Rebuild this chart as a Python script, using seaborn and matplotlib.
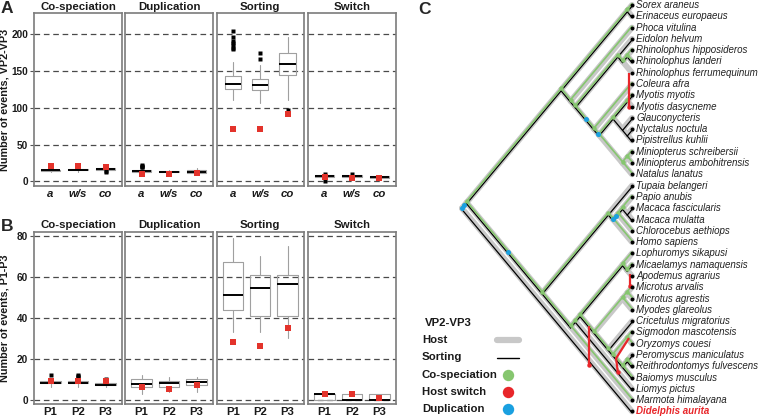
import matplotlib
matplotlib.use("Agg")
import matplotlib.pyplot as plt
import matplotlib.transforms as mtrans
from matplotlib.lines import Line2D
import seaborn as sns

# ---------------- data: panels A and B (summary of simulated event counts) ----
events = ["Co-speciation", "Duplication", "Sorting", "Switch"]
A_cats = ["a", "w/s", "co"]
B_cats = ["P1", "P2", "P3"]

A_q1 = [[14, 15, 16], [13, 12, 11], [126, 124, 144], [6, 6, 5]]
A_med = [[15, 16, 17], [14, 13, 13], [132, 131, 159], [7, 7, 6]]
A_q3 = [[16, 17, 18], [15, 14, 15], [143, 139, 175], [8, 8, 7]]
A_lo = [[13, 13, 15], [11, 10, 8], [110, 106, 110], [4, 4, 3]]
A_hi = [[18, 19, 19], [17, 16, 18], [163, 158, 197], [9, 10, 9]]
A_fliers = [[[], [], [13, 14]],
            [[19, 20, 21, 22], [], []],
            [[180, 182, 185, 188, 191, 196, 204], [167, 175], [97]],
            [[1, 10], [10], []]]
A_obs = [[21, 21, 20], [10, 10, 11], [71, 71, 91], [6, 5, 5]]

B_q1 = [[8, 8, 7], [6, 6, 7], [44, 41, 41], [0, 0, 0]]
B_med = [[8, 8, 7], [7.5, 8, 8.5], [51, 54.5, 56.5], [3, 0, 0]]
B_q3 = [[9, 9, 8], [10, 9, 10], [67, 61, 61], [3, 3, 3]]
B_lo = [[6, 6, 6], [3, 4, 4], [33, 33, 30], [0, 0, 0]]
B_hi = [[10, 10, 9], [12, 11, 11], [79, 70, 75], [3, 3, 3]]
B_fliers = [[[12], [11, 11.5, 12], [10]], [[], [], []], [[], [], []], [[], [], []]]
B_obs = [[9, 9, 9], [6, 5, 7], [28, 26, 35], [3, 3, 1]]

A_ticks = [0, 50, 100, 150, 200]
B_ticks = [0, 20, 40, 60, 80]

# ---------------- data: panel C (host tree, reconciled events) ----------------
host_tree = (
    ((("Sorex araneus", "Erinaceus europaeus"),
      ("Phoca vitulina",
       (("Eidolon helvum", (("Rhinolophus hipposideros", "Rhinolophus landeri"),
                            "Rhinolophus ferrumequinum")),
        ("Coleura afra",
         ((("Myotis myotis", "Myotis dasycneme"),
           ("Glauconycteris", ("Nyctalus noctula", "Pipistrellus kuhlii"))),
          (("Miniopterus schreibersii", "Miniopterus ambohitrensis"), "Natalus lanatus")))))),
     (("Tupaia belangeri",
       ((("Papio anubis", ("Macaca fascicularis", "Macaca mulatta")), "Chlorocebus aethiops"),
        "Homo sapiens")),
      ((((("Lophuromys sikapusi", ("Micaelamys namaquensis", "Apodemus agrarius")),
          ((("Microtus arvalis", "Microtus agrestis"), "Myodes glareolus"),
           ("Cricetulus migratorius",
            (("Sigmodon mascotensis", "Oryzomys couesi"),
             (("Peromyscus maniculatus", "Reithrodontomys fulvescens"), "Baiomys musculus"))))),
         "Liomys pictus"), "Marmota himalayana")))),
    "Didelphis aurita")

cospec_tips = ["Sorex araneus", "Phoca vitulina", "Rhinolophus hipposideros",
               "Rhinolophus landeri", "Coleura afra", "Myotis myotis",
               "Miniopterus schreibersii", "Miniopterus ambohitrensis", "Natalus lanatus",
               "Papio anubis", "Chlorocebus aethiops", "Homo sapiens",
               "Lophuromys sikapusi", "Micaelamys namaquensis", "Microtus arvalis",
               "Microtus agrestis", "Myodes glareolus", "Sigmodon mascotensis",
               "Oryzomys couesi", "Reithrodontomys fulvescens", "Baiomys musculus",
               "Marmota himalayana"]
sorting_tips = ["Sorex araneus", "Erinaceus europaeus", "Eidolon helvum",
                "Rhinolophus landeri", "Myotis myotis", "Glauconycteris",
                "Nyctalus noctula", "Pipistrellus kuhlii", "Tupaia belangeri",
                "Macaca fascicularis", "Macaca mulatta", "Micaelamys namaquensis",
                "Cricetulus migratorius", "Peromyscus maniculatus",
                "Reithrodontomys fulvescens", "Baiomys musculus", "Liomys pictus",
                "Didelphis aurita"]
# duplications: branch given by child's (first tip, last tip) and fraction along it
dup_first = ["Sorex araneus", "Tupaia belangeri", "Coleura afra", "Myotis myotis",
             "Papio anubis", "Papio anubis"]
dup_last = ["Marmota himalayana", "Marmota himalayana", "Natalus lanatus",
            "Natalus lanatus", "Chlorocebus aethiops", "Chlorocebus aethiops"]
dup_frac = [0.5, 0.55, 0.55, 0.85, 0.05, 0.6]
# host switches: polylines as (depth from tips, tip position)
switch_paths = [[(0.32, 6.0), (0.32, 9.0)],
                [(0.22, 23.8), (0.22, 24.9)],
                [(4.55, 28.4), (4.55, 31.9)],
                [(0.32, 29.5), (1.69, 31.3), (1.5, 32.5)]]

# ---------------- styling ----------------
sns.set_theme(style="white")
plt.rcParams["font.family"] = ["Liberation Sans", "DejaVu Sans"]

W, H = 760, 418
fig = plt.figure(figsize=(7.6, 4.18), dpi=100)


def rect(x0, y0, x1, y1):
    return [x0 / W, 1 - y1 / H, (x1 - x0) / W, (y1 - y0) / H]


RED = "#e3332b"
GREY_BOX = "#a0a0a0"
xcols = [(34, 122), (125, 213), (216.5, 304), (308, 396)]


def draw_row(y0, y1, cats, q1, med, q3, lo, hi, fl, obs, ticks, ylim, widths, italic, label):
    for k, ev in enumerate(events):
        ax = fig.add_axes(rect(xcols[k][0], y0, xcols[k][1], y1))
        stats = []
        for j in range(3):
            stats.append(dict(q1=q1[k][j], med=med[k][j], q3=q3[k][j],
                              whislo=lo[k][j], whishi=hi[k][j], fliers=fl[k][j]))
        for t in ticks:
            ax.axhline(t, color="#4a4a4a", lw=0.9, ls=(0, (4.5, 3)), zorder=0)
        ax.bxp(stats, positions=[0, 1, 2], widths=widths[k], showcaps=False,
               boxprops=dict(color=GREY_BOX, lw=0.8),
               whiskerprops=dict(color=GREY_BOX, lw=0.8),
               medianprops=dict(color="black", lw=1.4),
               flierprops=dict(marker="s", markersize=2.4, markerfacecolor="black",
                               markeredgecolor="none"))
        sns.scatterplot(x=[0, 1, 2], y=obs[k], marker="s", s=20, color=RED,
                        linewidth=0, ax=ax, zorder=5)
        ax.set_xlim(-0.6, 2.6)
        ax.set_ylim(*ylim)
        ax.set_xlabel("")
        ax.set_ylabel("")
        ax.set_xticks([0, 1, 2])
        ax.set_xticklabels(cats, fontsize=8.2, fontweight="bold",
                           fontstyle="italic" if italic else "normal", color="#1a1a1a")
        ax.tick_params(axis="x", length=0, pad=2.5)
        if k == 0:
            ax.set_yticks(ticks)
            ax.set_yticklabels([str(t) for t in ticks], fontsize=7.2,
                               fontweight="bold", color="#1a1a1a")
            ax.tick_params(axis="y", length=3, width=0.8, color="#555555", pad=1.2,
                           left=True)
        else:
            ax.set_yticks([])
        for s in ax.spines.values():
            s.set_color("#7c7c7c")
            s.set_linewidth(1.2)
        ax.set_title(ev, fontsize=8.2, fontweight="bold", pad=2.5, color="#1a1a1a")
    fig.text(5 / W, 1 - (y0 + y1) / 2 / H, label, rotation=90, ha="center",
             va="center", fontsize=7.8, fontweight="bold", color="#1a1a1a")


draw_row(13, 186, A_cats, A_q1, A_med, A_q3, A_lo, A_hi, A_fliers, A_obs,
         A_ticks, (-6.4, 229), [0.72, 0.72, 0.6, 0.72], True, "Number of events, VP2-VP3")
draw_row(231.7, 404, B_cats, B_q1, B_med, B_q3, B_lo, B_hi, B_fliers, B_obs,
         B_ticks, (-2.1, 82), [0.74, 0.74, 0.74, 0.74], False, "Number of events, P1-P3")

fig.text(1 / W, 1 - 1 / H, "A", fontsize=12.5, fontweight="bold", va="top", ha="left")
fig.text(1 / W, 1 - 219 / H, "B", fontsize=12.5, fontweight="bold", va="top", ha="left")
fig.text(418 / W, 1 - 2 / H, "C", fontsize=12.5, fontweight="bold", va="top", ha="left")

# ---------------- panel C: slanted cladogram ----------------
tips = []
edges = []


def layout(node):
    if isinstance(node, str):
        i = len(tips)
        tips.append(node)
        return (i, i)
    rs = [layout(c) for c in node]
    r = (rs[0][0], rs[-1][1])
    for c in rs:
        edges.append((r, c))
    return r


root = layout(host_tree)


def xy(r):
    a, b = r
    return -(b - a) / 2.0, (a + b) / 2.0


ux, uy = 9.45, 11.29   # px per unit
tip_px, top_px = 632, 5
axl, axr = 400, 760
axt = fig.add_axes(rect(axl, 0, axr, H))
axt.set_xlim((axl - tip_px) / ux, (axr - tip_px) / ux)
axt.set_ylim((H - top_px) / uy, (0 - top_px) / uy)
axt.axis("off")

idx = {n: i for i, n in enumerate(tips)}
cos_i = [idx[n] for n in cospec_tips]
sor_i = [idx[n] for n in sorting_tips]

GREEN = "#86c66f"
BLUE = "#1aa0e0"
HOSTC = "#c8c8c8"
tr_g = mtrans.offset_copy(axt.transData, fig=fig, x=0, y=1.3, units="dots")
tr_b = mtrans.offset_copy(axt.transData, fig=fig, x=0, y=-1.2, units="dots")

# host tree
for p, c in edges:
    (x0, y0), (x1, y1) = xy(p), xy(c)
    axt.plot([x0, x1], [y0, y1], color=HOSTC, lw=4.2, solid_capstyle="round", zorder=1)
rx, ry = xy(root)
# sorting lineages (black) and co-speciation lineages (green)
for p, c in edges:
    (x0, y0), (x1, y1) = xy(p), xy(c)
    if any(c[0] <= i <= c[1] for i in sor_i):
        axt.plot([x0, x1], [y0, y1], color="black", lw=0.9, transform=tr_b, zorder=2)
    if any(c[0] <= i <= c[1] for i in cos_i):
        axt.plot([x0, x1], [y0, y1], color=GREEN, lw=1.2, transform=tr_g, zorder=3)
        if c[0] != c[1]:
            axt.plot([x1], [y1], marker="o", ms=3.2, color=GREEN, mec="none",
                     transform=tr_g, zorder=4)

# duplications
for f, l, t in zip(dup_first, dup_last, dup_frac):
    c = (idx[f], idx[l])
    p = [e[0] for e in edges if e[1] == c][0]
    (x0, y0), (x1, y1) = xy(p), xy(c)
    axt.plot([x0 + t * (x1 - x0)], [y0 + t * (y1 - y0)], marker="o", ms=3.6,
             color=BLUE, mec="none", zorder=6)
axt.plot([rx], [ry], marker="o", ms=3.6, color=BLUE, mec="none", zorder=6)

# host switches
for path in switch_paths:
    xs = [-d for d, _ in path]
    ys = [y for _, y in path]
    axt.plot(xs, ys, color="#e8262a", lw=1.6, zorder=5, solid_capstyle="butt")
    axt.plot([xs[-1]], [ys[-1]], marker="o", ms=3.2, color="#e8262a", mec="none", zorder=5)

# tips
for i, n in enumerate(tips):
    axt.plot([0], [i], marker="o", ms=2.8, color="black", mec="none", zorder=6)
    if n == "Didelphis aurita":
        axt.text(0.45, i, n, fontsize=7.0, fontstyle="italic", fontweight="bold",
                 color="#e8262a", va="center", ha="left")
    else:
        axt.text(0.45, i, n, fontsize=7.0, fontstyle="italic", color="#222222",
                 va="center", ha="left")

# legend
fig.text(448 / W, 1 - 323 / H, "VP2-VP3", ha="center", va="center", fontsize=8.2,
         fontweight="bold", color="#1a1a1a")
leg_labels = ["Host", "Sorting", "Co-speciation", "Host switch", "Duplication"]
leg_y = [340, 357.5, 375, 392, 409]
for lab, yy in zip(leg_labels, leg_y):
    fig.text(422 / W, 1 - yy / H, lab, ha="left", va="center", fontsize=8.2,
             fontweight="bold", color="#1a1a1a")
fig.add_artist(Line2D([497 / W, 519 / W], [1 - 340 / H] * 2, color=HOSTC, lw=4.5))
fig.add_artist(Line2D([497 / W, 519 / W], [1 - 357.5 / H] * 2, color="black", lw=1.0))
for col, yy in zip([GREEN, "#e8262a", BLUE], leg_y[2:]):
    fig.add_artist(Line2D([508 / W], [1 - yy / H], marker="o", ms=8.2, color=col,
                          mec="none", lw=0))

fig.savefig("out.png", dpi=100)
